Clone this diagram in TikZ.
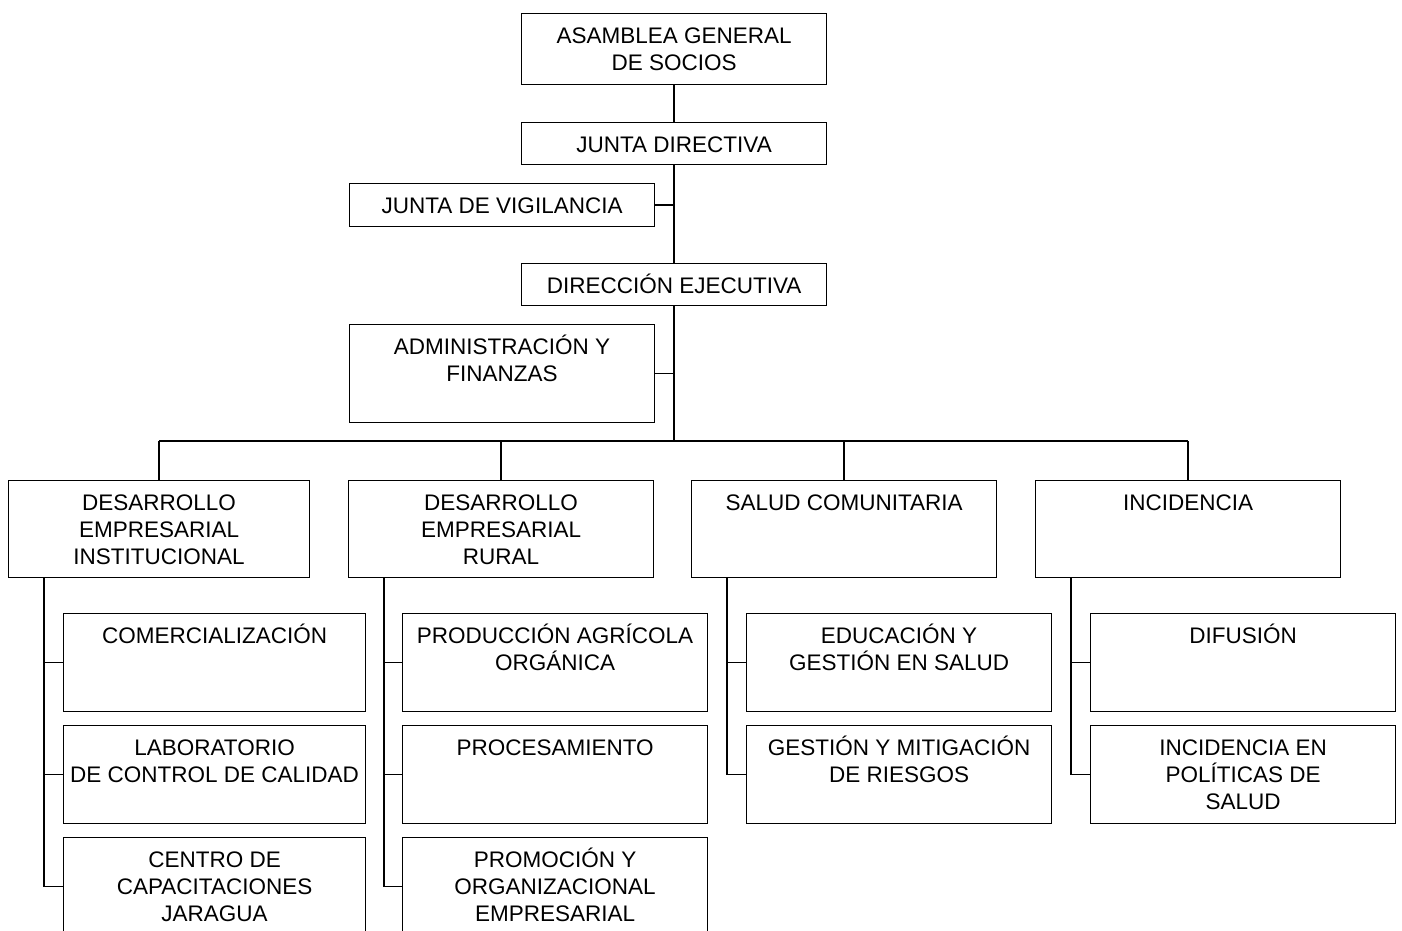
\documentclass[tikz,border=0pt]{standalone}
\usepackage{fontspec}
\setmainfont{Liberation Sans}

\begin{document}
\begin{tikzpicture}[
            x=1pt, y=-1pt,
            box/.style 2 args = {
                draw,
                line width=1.2pt,
                anchor=north west,
                minimum width=305pt,
                inner xsep=2pt,
                inner ysep=0pt,
                align=center,
                text height=29.5pt+#2*27.3pt,
                text depth=#1pt-29.5pt-#2*27.3pt,
                font=\fontsize{22.5}{27.3}\selectfont
            },
            link/.style = {
                line width=1.7pt
            }
        ]
            \clip (0,0) rectangle (1402,930);

            % top of the chart
            \node[box={71}{1}] (asamblea) at (521,13) {ASAMBLEA GENERAL\\DE SOCIOS};
            \node[box={42}{0}] (directiva) at (521,122) {JUNTA DIRECTIVA};
            \node[box={43}{0}] (vigilancia) at (349,183) {JUNTA DE VIGILANCIA};
            \node[box={42}{0}] (ejecutiva) at (521,263) {DIRECCIÓN EJECUTIVA};
            \node[box={98}{1}] (admin) at (349,324) {ADMINISTRACIÓN Y\\FINANZAS};
            \coordinate (bus) at ([yshift=-135pt]ejecutiva.south);

            % areas
            \node[box={97}{2}, minimum width=301pt] (area1) at (8,480) {DESARROLLO\\EMPRESARIAL\\INSTITUCIONAL};
            \node[box={97}{2}] (area2) at (348,480) {DESARROLLO\\EMPRESARIAL\\RURAL};
            \node[box={97}{0}] (area3) at (691,480) {SALUD COMUNITARIA};
            \node[box={97}{0}] (area4) at (1035,480) {INCIDENCIA};

            % units
            \node[box={98}{0}, minimum width=302pt] (u11) at (63,613) {COMERCIALIZACIÓN};
            \node[box={98}{1}, minimum width=302pt] (u12) at (63,725) {LABORATORIO\\DE CONTROL DE CALIDAD};
            \node[box={98}{2}, minimum width=302pt] (u13) at (63,837) {CENTRO DE\\CAPACITACIONES\\JARAGUA};

            \node[box={98}{1}] (u21) at (402,613) {PRODUCCIÓN AGRÍCOLA\\ORGÁNICA};
            \node[box={98}{0}] (u22) at (402,725) {PROCESAMIENTO};
            \node[box={98}{2}] (u23) at (402,837) {PROMOCIÓN Y\\ORGANIZACIONAL\\EMPRESARIAL};

            \node[box={98}{1}] (u31) at (746,613) {EDUCACIÓN Y\\GESTIÓN EN SALUD};
            \node[box={98}{1}] (u32) at (746,725) {GESTIÓN Y MITIGACIÓN\\DE RIESGOS};

            \node[box={98}{0}] (u41) at (1090,613) {DIFUSIÓN};
            \node[box={98}{2}] (u42) at (1090,725) {INCIDENCIA EN\\POLÍTICAS DE\\SALUD};

            \draw[link] (asamblea.south) -- (directiva.north);
            \draw[link] (directiva.south) -- (ejecutiva.north);
            \draw[link] (vigilancia.east) -- (vigilancia.east -| directiva.south);
            \draw[link] (ejecutiva.south) -- (bus);
            \draw[link] (admin.east) -- (admin.east -| bus);

            \draw[link] (area1.north |- bus) -- (area4.north |- bus);
            \foreach \i in {1,...,4} {
                \draw[link] (area\i.north) -- (area\i.north |- bus);
                \coordinate (spine\i) at ([xshift=36pt]area\i.south west);
            }

            \foreach \i/\j in {1/1,1/2,1/3,2/1,2/2,2/3,3/1,3/2,4/1,4/2} {
                \draw[link] (spine\i) |- (u\i\j.west);
            }

        \end{tikzpicture}
\end{document}
